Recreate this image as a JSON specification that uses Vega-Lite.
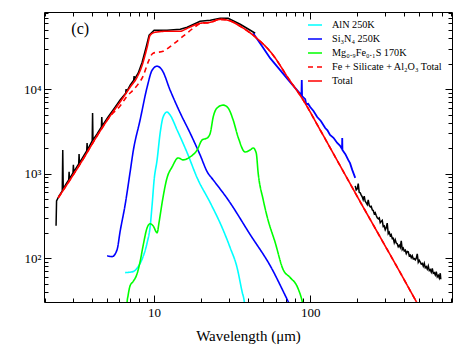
{
  "$schema": "https://vega.github.io/schema/vega-lite/v6.json",
  "width": 408,
  "height": 290,
  "autosize": "none",
  "padding": {"left": 44, "top": 12, "right": 11, "bottom": 43},
  "background": "white",
  "config": {
    "font": "Liberation Serif, Times New Roman, Times, DejaVu Serif, serif",
    "view": {"stroke": "black", "strokeWidth": 1},
    "axis": {
      "grid": false,
      "domain": false,
      "tickColor": "black",
      "tickWidth": 1,
      "labelColor": "black",
      "titleColor": "black",
      "labelFont": "Liberation Serif, Times New Roman, Times, DejaVu Serif, serif",
      "titleFont": "Liberation Serif, Times New Roman, Times, DejaVu Serif, serif",
      "labelFontSize": 13,
      "titleFontSize": 15,
      "titleFontWeight": "normal",
      "labelOverlap": false,
      "labelFlush": false
    },
    "legend": {
      "labelFont": "Liberation Serif, Times New Roman, Times, DejaVu Serif, serif",
      "labelFontSize": 10.2,
      "labelColor": "black"
    }
  },
  "datasets": {
    "black": [
      {"seg": "a", "wl": 2.354, "flux": 241},
      {"seg": "a", "wl": 2.371, "flux": 476},
      {"seg": "a", "wl": 2.46, "flux": 545},
      {"seg": "a", "wl": 2.579, "flux": 625},
      {"seg": "a", "wl": 2.598, "flux": 1905},
      {"seg": "a", "wl": 2.617, "flux": 660},
      {"seg": "a", "wl": 2.729, "flux": 756},
      {"seg": "a", "wl": 2.836, "flux": 843},
      {"seg": "a", "wl": 2.853, "flux": 1047},
      {"seg": "a", "wl": 2.87, "flux": 866},
      {"seg": "a", "wl": 3.021, "flux": 1019},
      {"seg": "a", "wl": 3.039, "flux": 1267},
      {"seg": "a", "wl": 3.057, "flux": 1047},
      {"seg": "a", "wl": 3.286, "flux": 1302},
      {"seg": "a", "wl": 3.305, "flux": 1708},
      {"seg": "a", "wl": 3.325, "flux": 1337},
      {"seg": "a", "wl": 3.506, "flux": 1575},
      {"seg": "a", "wl": 3.698, "flux": 1854},
      {"seg": "a", "wl": 3.72, "flux": 2304},
      {"seg": "a", "wl": 3.742, "flux": 1905},
      {"seg": "a", "wl": 4.01, "flux": 2433},
      {"seg": "a", "wl": 4.034, "flux": 5208},
      {"seg": "a", "wl": 4.058, "flux": 2500},
      {"seg": "a", "wl": 4.311, "flux": 2942},
      {"seg": "a", "wl": 4.594, "flux": 3559},
      {"seg": "a", "wl": 4.621, "flux": 4670},
      {"seg": "a", "wl": 4.648, "flux": 3657},
      {"seg": "a", "wl": 5.072, "flux": 4670},
      {"seg": "a", "wl": 5.623, "flux": 6131},
      {"seg": "a", "wl": 6.053, "flux": 7418},
      {"seg": "a", "wl": 6.576, "flux": 8970},
      {"seg": "a", "wl": 6.615, "flux": 10000},
      {"seg": "a", "wl": 6.655, "flux": 9218},
      {"seg": "a", "wl": 7.02, "flux": 11150},
      {"seg": "a", "wl": 7.398, "flux": 12770},
      {"seg": "a", "wl": 7.443, "flux": 14240},
      {"seg": "a", "wl": 7.487, "flux": 13130},
      {"seg": "a", "wl": 7.9, "flux": 15450},
      {"seg": "a", "wl": 8.38, "flux": 20830},
      {"seg": "a", "wl": 8.886, "flux": 31330},
      {"seg": "a", "wl": 9.289, "flux": 43410},
      {"seg": "a", "wl": 10.0, "flux": 49740},
      {"seg": "a", "wl": 12.1, "flux": 49740},
      {"seg": "a", "wl": 14.7, "flux": 51110},
      {"seg": "a", "wl": 16.3, "flux": 53950},
      {"seg": "a", "wl": 19.7, "flux": 63520},
      {"seg": "a", "wl": 22.9, "flux": 65300},
      {"seg": "a", "wl": 26.5, "flux": 68900},
      {"seg": "a", "wl": 29.8, "flux": 68900},
      {"seg": "a", "wl": 35.6, "flux": 58530},
      {"seg": "a", "wl": 41.3, "flux": 49740},
      {"seg": "a", "wl": 44.4, "flux": 45840},
      {"seg": "c", "wl": 194.3, "flux": 715.8},
      {"seg": "c", "wl": 197.0, "flux": 640},
      {"seg": "c", "wl": 200.1, "flux": 660},
      {"seg": "c", "wl": 203.1, "flux": 760},
      {"seg": "c", "wl": 206.0, "flux": 600},
      {"seg": "c", "wl": 209.2, "flux": 591.7},
      {"seg": "c", "wl": 212.0, "flux": 560},
      {"seg": "c", "wl": 215.4, "flux": 530.7},
      {"seg": "c", "wl": 218.5, "flux": 490},
      {"seg": "c", "wl": 221.9, "flux": 540.4},
      {"seg": "c", "wl": 225.0, "flux": 470},
      {"seg": "c", "wl": 228.6, "flux": 450.8},
      {"seg": "c", "wl": 232.0, "flux": 430},
      {"seg": "c", "wl": 235.4, "flux": 489.2},
      {"seg": "c", "wl": 238.9, "flux": 420},
      {"seg": "c", "wl": 242.5, "flux": 404.5},
      {"seg": "c", "wl": 246.0, "flux": 410},
      {"seg": "c", "wl": 249.7, "flux": 373.0},
      {"seg": "c", "wl": 253.4, "flux": 365},
      {"seg": "c", "wl": 257.2, "flux": 334.3},
      {"seg": "c", "wl": 261.0, "flux": 345},
      {"seg": "c", "wl": 264.9, "flux": 318.6},
      {"seg": "c", "wl": 268.9, "flux": 300},
      {"seg": "c", "wl": 272.9, "flux": 291.9},
      {"seg": "c", "wl": 277.0, "flux": 299},
      {"seg": "c", "wl": 281.0, "flux": 262.0},
      {"seg": "c", "wl": 285.2, "flux": 272},
      {"seg": "c", "wl": 289.4, "flux": 279.9},
      {"seg": "c", "wl": 293.7, "flux": 236.5},
      {"seg": "c", "wl": 298.0, "flux": 240},
      {"seg": "c", "wl": 302.5, "flux": 216.4},
      {"seg": "c", "wl": 307.0, "flux": 229},
      {"seg": "c", "wl": 311.5, "flux": 259.0},
      {"seg": "c", "wl": 316.2, "flux": 194.1},
      {"seg": "c", "wl": 321.0, "flux": 202},
      {"seg": "c", "wl": 325.7, "flux": 183.9},
      {"seg": "c", "wl": 330.5, "flux": 190},
      {"seg": "c", "wl": 335.4, "flux": 170.1},
      {"seg": "c", "wl": 340.4, "flux": 172},
      {"seg": "c", "wl": 345.5, "flux": 152.0},
      {"seg": "c", "wl": 350.6, "flux": 165},
      {"seg": "c", "wl": 355.8, "flux": 150.5},
      {"seg": "c", "wl": 361.0, "flux": 148},
      {"seg": "c", "wl": 366.5, "flux": 136.3},
      {"seg": "c", "wl": 372.0, "flux": 142},
      {"seg": "c", "wl": 377.5, "flux": 133.9},
      {"seg": "c", "wl": 383.1, "flux": 160.1},
      {"seg": "c", "wl": 388.8, "flux": 125.7},
      {"seg": "c", "wl": 394.6, "flux": 131},
      {"seg": "c", "wl": 400.5, "flux": 121.1},
      {"seg": "c", "wl": 406.5, "flux": 124},
      {"seg": "c", "wl": 412.5, "flux": 112.8},
      {"seg": "c", "wl": 418.6, "flux": 120},
      {"seg": "c", "wl": 424.8, "flux": 118.7},
      {"seg": "c", "wl": 431.1, "flux": 106},
      {"seg": "c", "wl": 437.5, "flux": 108.7},
      {"seg": "c", "wl": 444.0, "flux": 101},
      {"seg": "c", "wl": 450.6, "flux": 106.7},
      {"seg": "c", "wl": 457.3, "flux": 98},
      {"seg": "c", "wl": 464.2, "flux": 98.4},
      {"seg": "c", "wl": 471.1, "flux": 95},
      {"seg": "c", "wl": 478.1, "flux": 99.9},
      {"seg": "c", "wl": 485.2, "flux": 112.0},
      {"seg": "c", "wl": 492.4, "flux": 89.2},
      {"seg": "c", "wl": 499.7, "flux": 94},
      {"seg": "c", "wl": 507.2, "flux": 89.7},
      {"seg": "c", "wl": 514.7, "flux": 85},
      {"seg": "c", "wl": 522.4, "flux": 86.6},
      {"seg": "c", "wl": 530.1, "flux": 80},
      {"seg": "c", "wl": 538.0, "flux": 86.7},
      {"seg": "c", "wl": 546.1, "flux": 77},
      {"seg": "c", "wl": 554.2, "flux": 79.1},
      {"seg": "c", "wl": 562.4, "flux": 74},
      {"seg": "c", "wl": 570.8, "flux": 80.6},
      {"seg": "c", "wl": 579.3, "flux": 71},
      {"seg": "c", "wl": 587.9, "flux": 72.9},
      {"seg": "c", "wl": 596.6, "flux": 68},
      {"seg": "c", "wl": 605.5, "flux": 75.3},
      {"seg": "c", "wl": 614.6, "flux": 66},
      {"seg": "c", "wl": 623.7, "flux": 67.2},
      {"seg": "c", "wl": 633.0, "flux": 63},
      {"seg": "c", "wl": 642.4, "flux": 68.9},
      {"seg": "c", "wl": 651.9, "flux": 60},
      {"seg": "c", "wl": 661.6, "flux": 62.3},
      {"seg": "c", "wl": 671.4, "flux": 58},
      {"seg": "c", "wl": 681.4, "flux": 66.1},
      {"seg": "c", "wl": 686.5, "flux": 56.1}
    ],
    "blueobs": [
      {"wl": 43.1, "flux": 45840},
      {"wl": 49.2, "flux": 32190},
      {"wl": 55.4, "flux": 23230},
      {"wl": 64.2, "flux": 16760},
      {"wl": 74.4, "flux": 12090},
      {"wl": 81.3, "flux": 10000},
      {"wl": 87.9, "flux": 8494},
      {"wl": 88.3, "flux": 12770},
      {"wl": 88.7, "flux": 8270},
      {"wl": 92.9, "flux": 7619},
      {"wl": 94.3, "flux": 6651},
      {"wl": 97.0, "flux": 6700},
      {"wl": 100, "flux": 6131},
      {"wl": 105, "flux": 5500},
      {"wl": 110.9, "flux": 4670},
      {"wl": 117, "flux": 4200},
      {"wl": 124.8, "flux": 3464},
      {"wl": 129, "flux": 3250},
      {"wl": 134, "flux": 2863},
      {"wl": 141, "flux": 2650},
      {"wl": 149, "flux": 2304},
      {"wl": 155, "flux": 2150},
      {"wl": 159.9, "flux": 1957},
      {"wl": 160.4, "flux": 2640},
      {"wl": 160.9, "flux": 1905},
      {"wl": 168, "flux": 1700},
      {"wl": 175.2, "flux": 1452},
      {"wl": 180, "flux": 1330},
      {"wl": 185.9, "flux": 1106},
      {"wl": 194.3, "flux": 889.5}
    ],
    "model": [
      {"series": "AlN 250K", "wl": 6.52, "flux": 67.3},
      {"series": "AlN 250K", "wl": 7.33, "flux": 69.1},
      {"series": "AlN 250K", "wl": 7.9, "flux": 79.1},
      {"series": "AlN 250K", "wl": 8.5, "flux": 104},
      {"series": "AlN 250K", "wl": 9.02, "flux": 152},
      {"series": "AlN 250K", "wl": 9.43, "flux": 235},
      {"series": "AlN 250K", "wl": 9.71, "flux": 427},
      {"series": "AlN 250K", "wl": 10.0, "flux": 843},
      {"series": "AlN 250K", "wl": 10.45, "flux": 1452},
      {"series": "AlN 250K", "wl": 10.93, "flux": 3024},
      {"series": "AlN 250K", "wl": 11.42, "flux": 4670},
      {"series": "AlN 250K", "wl": 12.1, "flux": 5350},
      {"series": "AlN 250K", "wl": 12.66, "flux": 4930},
      {"series": "AlN 250K", "wl": 14.04, "flux": 3280},
      {"series": "AlN 250K", "wl": 16.3, "flux": 1755},
      {"series": "AlN 250K", "wl": 18.87, "flux": 890},
      {"series": "AlN 250K", "wl": 22.9, "flux": 451},
      {"series": "AlN 250K", "wl": 27.3, "flux": 228.5},
      {"series": "AlN 250K", "wl": 30.7, "flux": 132.7},
      {"series": "AlN 250K", "wl": 34.0, "flux": 77.1},
      {"series": "AlN 250K", "wl": 36.6, "flux": 40.1},
      {"series": "AlN 250K", "wl": 37.8, "flux": 30.6},
      {"series": "AlN 250K", "wl": 38.3, "flux": 24.6},
      {"series": "Si₃N₄ 250K", "wl": 5.0, "flux": 106.7},
      {"series": "Si₃N₄ 250K", "wl": 5.38, "flux": 104},
      {"series": "Si₃N₄ 250K", "wl": 5.79, "flux": 125.7},
      {"series": "Si₃N₄ 250K", "wl": 6.05, "flux": 205},
      {"series": "Si₃N₄ 250K", "wl": 6.52, "flux": 427},
      {"series": "Si₃N₄ 250K", "wl": 7.02, "flux": 1047},
      {"series": "Si₃N₄ 250K", "wl": 7.33, "flux": 1803},
      {"series": "Si₃N₄ 250K", "wl": 8.13, "flux": 4305},
      {"series": "Si₃N₄ 250K", "wl": 9.02, "flux": 10560},
      {"series": "Si₃N₄ 250K", "wl": 9.71, "flux": 16760},
      {"series": "Si₃N₄ 250K", "wl": 10.45, "flux": 18690},
      {"series": "Si₃N₄ 250K", "wl": 11.25, "flux": 16760},
      {"series": "Si₃N₄ 250K", "wl": 12.66, "flux": 9732},
      {"series": "Si₃N₄ 250K", "wl": 14.7, "flux": 5212},
      {"series": "Si₃N₄ 250K", "wl": 17.0, "flux": 3024},
      {"series": "Si₃N₄ 250K", "wl": 19.7, "flux": 1663},
      {"series": "Si₃N₄ 250K", "wl": 21.9, "flux": 1047},
      {"series": "Si₃N₄ 250K", "wl": 23.9, "flux": 843},
      {"series": "Si₃N₄ 250K", "wl": 29.8, "flux": 489},
      {"series": "Si₃N₄ 250K", "wl": 41.3, "flux": 189},
      {"series": "Si₃N₄ 250K", "wl": 55.4, "flux": 81.3},
      {"series": "Si₃N₄ 250K", "wl": 72.3, "flux": 30.6},
      {"series": "Si₃N₄ 250K", "wl": 76.7, "flux": 24.6},
      {"series": "Mg₀.₉Fe₀.₁S 170K", "wl": 6.68, "flux": 25},
      {"series": "Mg₀.₉Fe₀.₁S 170K", "wl": 6.71, "flux": 29.7},
      {"series": "Mg₀.₉Fe₀.₁S 170K", "wl": 6.81, "flux": 36.0},
      {"series": "Mg₀.₉Fe₀.₁S 170K", "wl": 7.02, "flux": 47.2},
      {"series": "Mg₀.₉Fe₀.₁S 170K", "wl": 7.33, "flux": 52.6},
      {"series": "Mg₀.₉Fe₀.₁S 170K", "wl": 7.78, "flux": 65.5},
      {"series": "Mg₀.₉Fe₀.₁S 170K", "wl": 8.13, "flux": 90.6},
      {"series": "Mg₀.₉Fe₀.₁S 170K", "wl": 8.5, "flux": 140},
      {"series": "Mg₀.₉Fe₀.₁S 170K", "wl": 9.02, "flux": 228.5},
      {"series": "Mg₀.₉Fe₀.₁S 170K", "wl": 9.43, "flux": 255},
      {"series": "Mg₀.₉Fe₀.₁S 170K", "wl": 9.85, "flux": 241},
      {"series": "Mg₀.₉Fe₀.₁S 170K", "wl": 10.45, "flux": 199.5},
      {"series": "Mg₀.₉Fe₀.₁S 170K", "wl": 10.77, "flux": 269},
      {"series": "Mg₀.₉Fe₀.₁S 170K", "wl": 11.25, "flux": 451},
      {"series": "Mg₀.₉Fe₀.₁S 170K", "wl": 12.1, "flux": 890},
      {"series": "Mg₀.₉Fe₀.₁S 170K", "wl": 13.04, "flux": 1200},
      {"series": "Mg₀.₉Fe₀.₁S 170K", "wl": 14.25, "flux": 1532},
      {"series": "Mg₀.₉Fe₀.₁S 170K", "wl": 15.35, "flux": 1452},
      {"series": "Mg₀.₉Fe₀.₁S 170K", "wl": 17.0, "flux": 1575},
      {"series": "Mg₀.₉Fe₀.₁S 170K", "wl": 18.87, "flux": 1905},
      {"series": "Mg₀.₉Fe₀.₁S 170K", "wl": 20.3, "flux": 2500},
      {"series": "Mg₀.₉Fe₀.₁S 170K", "wl": 21.9, "flux": 2640},
      {"series": "Mg₀.₉Fe₀.₁S 170K", "wl": 22.9, "flux": 3024},
      {"series": "Mg₀.₉Fe₀.₁S 170K", "wl": 23.9, "flux": 4670},
      {"series": "Mg₀.₉Fe₀.₁S 170K", "wl": 25.3, "flux": 5970},
      {"series": "Mg₀.₉Fe₀.₁S 170K", "wl": 27.7, "flux": 6470},
      {"series": "Mg₀.₉Fe₀.₁S 170K", "wl": 29.8, "flux": 5970},
      {"series": "Mg₀.₉Fe₀.₁S 170K", "wl": 32.1, "flux": 4305},
      {"series": "Mg₀.₉Fe₀.₁S 170K", "wl": 34.5, "flux": 2713},
      {"series": "Mg₀.₉Fe₀.₁S 170K", "wl": 38.3, "flux": 1803},
      {"series": "Mg₀.₉Fe₀.₁S 170K", "wl": 41.3, "flux": 1905},
      {"series": "Mg₀.₉Fe₀.₁S 170K", "wl": 43.1, "flux": 2012},
      {"series": "Mg₀.₉Fe₀.₁S 170K", "wl": 45.1, "flux": 1755},
      {"series": "Mg₀.₉Fe₀.₁S 170K", "wl": 46.4, "flux": 1019},
      {"series": "Mg₀.₉Fe₀.₁S 170K", "wl": 50.0, "flux": 489},
      {"series": "Mg₀.₉Fe₀.₁S 170K", "wl": 53.0, "flux": 308},
      {"series": "Mg₀.₉Fe₀.₁S 170K", "wl": 59.7, "flux": 152},
      {"series": "Mg₀.₉Fe₀.₁S 170K", "wl": 67.1, "flux": 73},
      {"series": "Mg₀.₉Fe₀.₁S 170K", "wl": 74.5, "flux": 58.7},
      {"series": "Mg₀.₉Fe₀.₁S 170K", "wl": 82.6, "flux": 45.9},
      {"series": "Mg₀.₉Fe₀.₁S 170K", "wl": 88.9, "flux": 30.6},
      {"series": "Mg₀.₉Fe₀.₁S 170K", "wl": 91.0, "flux": 25},
      {"series": "Fe + Silicate + Al₂O₃ Total", "wl": 2.43, "flux": 516},
      {"series": "Fe + Silicate + Al₂O₃ Total", "wl": 3.36, "flux": 1302},
      {"series": "Fe + Silicate + Al₂O₃ Total", "wl": 4.51, "flux": 3192},
      {"series": "Fe + Silicate + Al₂O₃ Total", "wl": 5.22, "flux": 4750},
      {"series": "Fe + Silicate + Al₂O₃ Total", "wl": 6.05, "flux": 6300},
      {"series": "Fe + Silicate + Al₂O₃ Total", "wl": 6.71, "flux": 8270},
      {"series": "Fe + Silicate + Al₂O₃ Total", "wl": 7.33, "flux": 9732},
      {"series": "Fe + Silicate + Al₂O₃ Total", "wl": 7.9, "flux": 11460},
      {"series": "Fe + Silicate + Al₂O₃ Total", "wl": 8.5, "flux": 14240},
      {"series": "Fe + Silicate + Al₂O₃ Total", "wl": 9.15, "flux": 20830},
      {"series": "Fe + Silicate + Al₂O₃ Total", "wl": 9.85, "flux": 26600},
      {"series": "Fe + Silicate + Al₂O₃ Total", "wl": 11.42, "flux": 28100},
      {"series": "Fe + Silicate + Al₂O₃ Total", "wl": 13.24, "flux": 34000},
      {"series": "Fe + Silicate + Al₂O₃ Total", "wl": 15.35, "flux": 42250},
      {"series": "Fe + Silicate + Al₂O₃ Total", "wl": 17.8, "flux": 52500},
      {"series": "Fe + Silicate + Al₂O₃ Total", "wl": 19.7, "flux": 59500},
      {"series": "Fe + Silicate + Al₂O₃ Total", "wl": 22.9, "flux": 61800},
      {"series": "Fe + Silicate + Al₂O₃ Total", "wl": 26.5, "flux": 67000},
      {"series": "Fe + Silicate + Al₂O₃ Total", "wl": 29.8, "flux": 65300},
      {"series": "Fe + Silicate + Al₂O₃ Total", "wl": 35.6, "flux": 55500},
      {"series": "Fe + Silicate + Al₂O₃ Total", "wl": 43.1, "flux": 43410},
      {"series": "Fe + Silicate + Al₂O₃ Total", "wl": 57.9, "flux": 25200},
      {"series": "Fe + Silicate + Al₂O₃ Total", "wl": 72.3, "flux": 13490},
      {"series": "Fe + Silicate + Al₂O₃ Total", "wl": 90.2, "flux": 7418},
      {"series": "Fe + Silicate + Al₂O₃ Total", "wl": 115.9, "flux": 3280},
      {"series": "Fe + Silicate + Al₂O₃ Total", "wl": 155.7, "flux": 1233},
      {"series": "Fe + Silicate + Al₂O₃ Total", "wl": 209.2, "flux": 463.3},
      {"series": "Fe + Silicate + Al₂O₃ Total", "wl": 281.0, "flux": 176.5},
      {"series": "Fe + Silicate + Al₂O₃ Total", "wl": 377.5, "flux": 67.2},
      {"series": "Fe + Silicate + Al₂O₃ Total", "wl": 478.1, "flux": 30.6},
      {"series": "Fe + Silicate + Al₂O₃ Total", "wl": 546, "flux": 19.8},
      {"series": "Total", "wl": 2.43, "flux": 516},
      {"series": "Total", "wl": 3.36, "flux": 1302},
      {"series": "Total", "wl": 4.51, "flux": 3192},
      {"series": "Total", "wl": 5.22, "flux": 4800},
      {"series": "Total", "wl": 6.05, "flux": 7024},
      {"series": "Total", "wl": 7.02, "flux": 10560},
      {"series": "Total", "wl": 7.78, "flux": 13860},
      {"series": "Total", "wl": 8.38, "flux": 19190},
      {"series": "Total", "wl": 9.02, "flux": 31330},
      {"series": "Total", "wl": 9.43, "flux": 43410},
      {"series": "Total", "wl": 10.15, "flux": 47100},
      {"series": "Total", "wl": 12.1, "flux": 48400},
      {"series": "Total", "wl": 14.7, "flux": 48400},
      {"series": "Total", "wl": 16.3, "flux": 52500},
      {"series": "Total", "wl": 19.7, "flux": 60100},
      {"series": "Total", "wl": 22.9, "flux": 61800},
      {"series": "Total", "wl": 26.5, "flux": 67000},
      {"series": "Total", "wl": 29.8, "flux": 65300},
      {"series": "Total", "wl": 35.6, "flux": 55500},
      {"series": "Total", "wl": 43.1, "flux": 43410},
      {"series": "Total", "wl": 57.9, "flux": 25200},
      {"series": "Total", "wl": 72.3, "flux": 13490},
      {"series": "Total", "wl": 90.2, "flux": 7418},
      {"series": "Total", "wl": 115.9, "flux": 3280},
      {"series": "Total", "wl": 155.7, "flux": 1233},
      {"series": "Total", "wl": 209.2, "flux": 463.3},
      {"series": "Total", "wl": 281.0, "flux": 176.5},
      {"series": "Total", "wl": 377.5, "flux": 67.2},
      {"series": "Total", "wl": 478.1, "flux": 30.6},
      {"series": "Total", "wl": 546, "flux": 19.8}
    ],
    "panel": [{"t": "(c)", "wl": 3.36, "flux": 51100}]
  },
  "layer": [
    {
      "data": {"name": "black"},
      "mark": {"type": "line", "color": "black", "strokeWidth": 1.5, "clip": true},
      "encoding": {
        "x": {
          "field": "wl", "type": "quantitative",
          "scale": {"type": "log", "domain": [1.97, 810], "nice": false},
          "axis": {"orient": "bottom", "values": [10, 100], "format": "d", "tickSize": -7, "labelPadding": 11, "title": "Wavelength (μm)", "titlePadding": 9}
        },
        "y": {
          "field": "flux", "type": "quantitative",
          "scale": {"type": "log", "domain": [30.2, 81800], "nice": false},
          "axis": {"orient": "left", "values": [100, 1000, 10000], "tickSize": -7, "labelPadding": 10, "title": null,
                   "labelExpr": "datum.value == 100 ? '10²' : datum.value == 1000 ? '10³' : '10⁴'"}
        },
        "detail": {"field": "seg"}
      }
    },
    {
      "data": {"name": "blueobs"},
      "mark": {"type": "line", "color": "#0000ff", "strokeWidth": 1.8, "clip": true},
      "encoding": {
        "x": {"field": "wl", "type": "quantitative",
              "axis": {"orient": "bottom", "values": [2,3,4,5,6,7,8,9,20,30,40,50,60,70,80,90,200,300,400,500,600,700,800], "tickSize": -4, "labels": false, "title": null}},
        "y": {"field": "flux", "type": "quantitative",
              "axis": {"orient": "left", "values": [40,50,60,70,80,90,200,300,400,500,600,700,800,900,2000,3000,4000,5000,6000,7000,8000,9000,20000,30000,40000,50000,60000,70000,80000], "tickSize": -4, "labels": false, "title": null}}
      }
    },
    {
      "data": {"name": "model"},
      "mark": {"type": "line", "strokeWidth": 1.6, "clip": true, "interpolate": "monotone"},
      "encoding": {
        "x": {"field": "wl", "type": "quantitative",
              "axis": {"orient": "top", "values": [10, 100], "tickSize": -7, "labels": false, "title": null}},
        "y": {"field": "flux", "type": "quantitative",
              "axis": {"orient": "right", "values": [100, 1000, 10000], "tickSize": -7, "labels": false, "title": null}},
        "color": {
          "field": "series", "type": "nominal",
          "scale": {
            "domain": ["AlN 250K", "Si₃N₄ 250K", "Mg₀.₉Fe₀.₁S 170K", "Fe + Silicate + Al₂O₃ Total", "Total"],
            "range": ["#00ffff", "#0000ff", "#00ff00", "#ff0000", "#ff0000"]
          },
          "legend": {
            "title": null, "orient": "none", "legendX": 263, "legendY": 5, "padding": 0,
            "symbolType": "stroke", "symbolSize": 196, "symbolStrokeWidth": 1.6,
            "labelOffset": 9, "rowPadding": 0
          }
        },
        "strokeDash": {
          "field": "series", "type": "nominal",
          "scale": {
            "domain": ["AlN 250K", "Si₃N₄ 250K", "Mg₀.₉Fe₀.₁S 170K", "Fe + Silicate + Al₂O₃ Total", "Total"],
            "range": [[1, 0], [1, 0], [1, 0], [5, 4], [1, 0]]
          },
          "legend": {
            "title": null, "orient": "none", "legendX": 263, "legendY": 5, "padding": 0,
            "symbolType": "stroke", "symbolSize": 196, "symbolStrokeWidth": 1.6,
            "labelOffset": 9, "rowPadding": 0
          }
        }
      }
    },
    {
      "data": {"name": "panel"},
      "mark": {"type": "text", "fontSize": 16, "color": "black", "align": "center", "baseline": "middle"},
      "encoding": {
        "x": {"field": "wl", "type": "quantitative",
              "axis": {"orient": "top", "values": [2,3,4,5,6,7,8,9,20,30,40,50,60,70,80,90,200,300,400,500,600,700,800], "tickSize": -4, "labels": false, "title": null}},
        "y": {"field": "flux", "type": "quantitative",
              "axis": {"orient": "right", "values": [40,50,60,70,80,90,200,300,400,500,600,700,800,900,2000,3000,4000,5000,6000,7000,8000,9000,20000,30000,40000,50000,60000,70000,80000], "tickSize": -4, "labels": false, "title": null}},
        "text": {"field": "t"}
      }
    }
  ],
  "resolve": {"axis": {"x": "independent", "y": "independent"}}
}
